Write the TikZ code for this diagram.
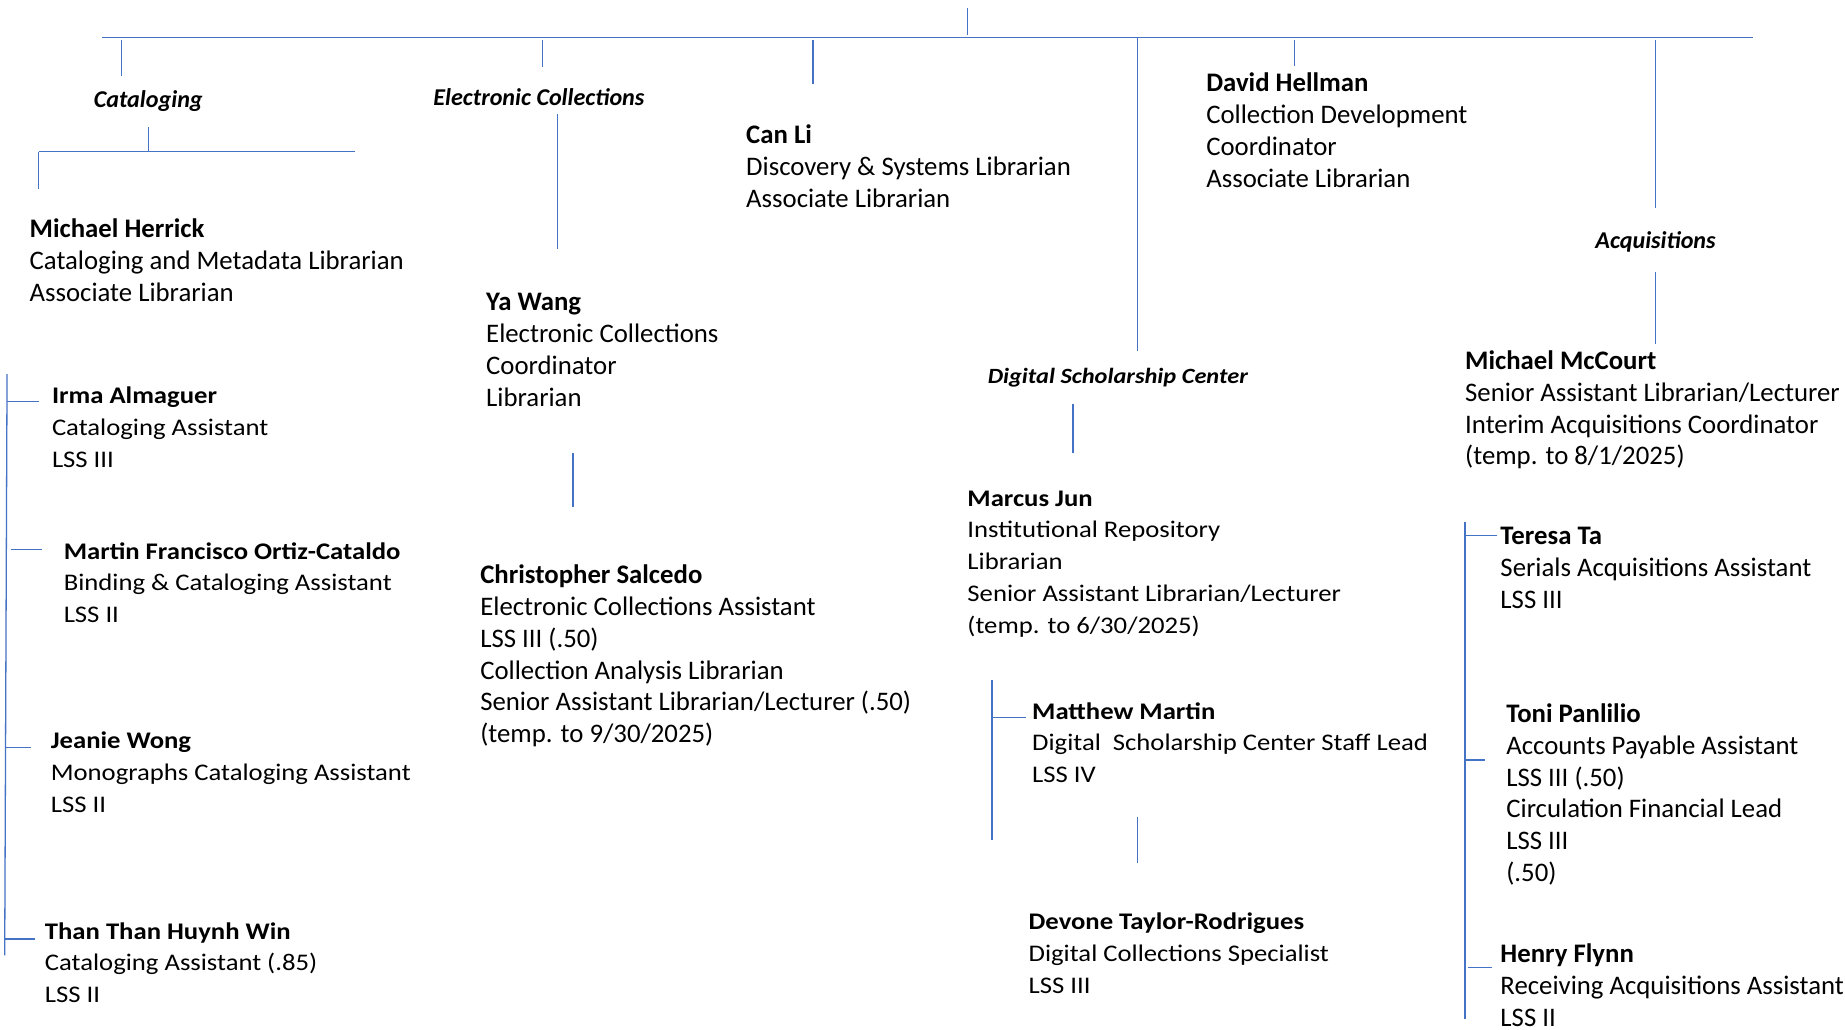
\documentclass[tikz,border=0pt]{standalone}
\usepackage{fontspec}
\setmainfont{Carlito}
\newfontfamily\widefont[FakeStretch=1.12]{Carlito}
\definecolor{linkblue}{HTML}{4472C4}
\begin{document}
\begin{tikzpicture}[x=1pt,y=-1pt,
  conn/.style={draw=linkblue, line width=1.1pt},
  person/.style={anchor=north west, inner sep=0pt, align=left, font=\fontsize{22.75}{27}\selectfont},
  wperson/.style={anchor=north west, inner sep=0pt, align=left, font=\widefont\fontsize{20.25}{27}\selectfont},
  unit/.style={anchor=base, inner sep=0pt, font=\fontsize{20.5}{24}\selectfont\bfseries\itshape},
  wunit/.style={anchor=base, inner sep=0pt, font=\widefont\fontsize{18.5}{24}\selectfont\bfseries\itshape},
]
\useasboundingbox[fill=white] (0,0) rectangle (1568,875);

% ---------- units ----------
\node[unit] (cat) at (126,91) {Cataloging};
\node[unit] (ec) at (458,90) {Electronic Collections};
\node[unit] (acq) at (1407,211) {Acquisitions};
\node[wunit] (dsc) at (950,326) {Digital Scholarship Center};

% ---------- people ----------
\node[person] (herrick) at (25,183) {\strut\textbf{Michael Herrick}\\Cataloging and Metadata Librarian\\Associate Librarian};
\node[person] (wang) at (413,245) {\strut\textbf{Ya Wang}\\Electronic Collections\\Coordinator\\Librarian};
\node[person] (canli) at (634,103) {\strut\textbf{Can Li}\\Discovery \& Systems Librarian\\Associate Librarian};
\node[person] (hellman) at (1025,59) {\strut\textbf{David Hellman}\\Collection Development\\Coordinator\\Associate Librarian};
\node[person] (mccourt) at (1245,295) {\strut\textbf{Michael McCourt}\\Senior Assistant Librarian/Lecturer\\Interim Acquisitions Coordinator\\(temp. to 8/1/2025)};
\node[person] (salcedo) at (408,477) {\strut\textbf{Christopher Salcedo}\\Electronic Collections Assistant\\LSS III (.50)\\Collection Analysis Librarian\\Senior Assistant Librarian/Lecturer (.50)\\(temp. to 9/30/2025)};
\node[person] (ta) at (1275,444) {\strut\textbf{Teresa Ta}\\Serials Acquisitions Assistant\\LSS III};
\node[person] (panlilio) at (1280,595) {\strut\textbf{Toni Panlilio}\\Accounts Payable Assistant\\LSS III (.50)\\Circulation Financial Lead\\LSS III\\(.50)};
\node[person] (flynn) at (1275,799) {\strut\textbf{Henry Flynn}\\Receiving Acquisitions Assistant\\LSS II};

\node[wperson] (almaguer) at (44,324) {\strut\textbf{Irma Almaguer}\\Cataloging Assistant\\LSS III};
\node[wperson] (ortiz) at (54,456) {\strut\textbf{Martin Francisco Ortiz-Cataldo}\\Binding \& Cataloging Assistant\\LSS II};
\node[wperson] (wong) at (43,617) {\strut\textbf{Jeanie Wong}\\Monographs Cataloging Assistant\\LSS II};
\node[wperson] (win) at (38,779) {\strut\textbf{Than Than Huynh Win}\\Cataloging Assistant (.85)\\LSS II};
\node[wperson] (jun) at (822,411) {\strut\textbf{Marcus Jun}\\Institutional Repository\\Librarian\\Senior Assistant Librarian/Lecturer\\(temp. to 6/30/2025)};
\node[wperson] (martin) at (877,592) {\strut\textbf{Matthew Martin}\\Digital~ Scholarship Center Staff Lead\\LSS IV};
\node[wperson] (taylor) at (874,771) {\strut\textbf{Devone Taylor-Rodrigues}\\Digital Collections Specialist\\LSS III};

% ---------- connector points ----------
\coordinate (barL) at (87,32);   \coordinate (barR) at (1490,32);
\coordinate (topA) at (822,7);   \coordinate (topB) at (822,30);
\coordinate (catA) at (103,34);  \coordinate (catB) at (103,65);
\coordinate (ecA) at (461,34);   \coordinate (ecB) at (461,57);
\coordinate (liA) at (691,34);   \coordinate (liB) at (691,71);
\coordinate (dsA) at (967,32);   \coordinate (dsB) at (967,298);
\coordinate (dhA) at (1100,34);  \coordinate (dhB) at (1100,56);
\coordinate (aqA) at (1407,34);  \coordinate (aqB) at (1407,177);
\coordinate (aqC) at (1407,231); \coordinate (aqD) at (1407,292);
\coordinate (csA) at (126,108);  \coordinate (csB) at (126,129);
\coordinate (csL) at (33,129);   \coordinate (csR) at (302,129);
\coordinate (csD) at (33,161);
\coordinate (ywA) at (474,97);   \coordinate (ywB) at (474,212);
\coordinate (chA) at (487,385);  \coordinate (chB) at (487,431);
\coordinate (mjA) at (912,343);  \coordinate (mjB) at (912,385);
\coordinate (mmT) at (843,578);  \coordinate (mmB) at (843,714);
\coordinate (mmJ) at (843,610);  \coordinate (mmE) at (872,610);
\coordinate (dtA) at (967,694);  \coordinate (dtB) at (967,733);
\coordinate (ksT) at (6,318);    \coordinate (ksB) at (4,812);
\coordinate (k1a) at (6,341);    \coordinate (k1b) at (33,341);
\coordinate (k2a) at (9,467);    \coordinate (k2b) at (36,467);
\coordinate (k3a) at (5,635);    \coordinate (k3b) at (26,635);
\coordinate (k4a) at (4,798);    \coordinate (k4b) at (30,798);
\coordinate (asT) at (1245,444); \coordinate (asB) at (1245,866);
\coordinate (a1a) at (1245,455); \coordinate (a1b) at (1272,455);
\coordinate (a2a) at (1245,646); \coordinate (a2b) at (1262,646);
\coordinate (a3a) at (1248,822); \coordinate (a3b) at (1268,822);

% ---------- connectors ----------
\draw[conn] (barL) -- (barR);
\draw[conn] (topA) -- (topB);
\draw[conn] (catA) -- (catB);
\draw[conn] (ecA) -- (ecB);
\draw[conn] (liA) -- (liB);
\draw[conn] (dsA) -- (dsB);
\draw[conn] (dhA) -- (dhB);
\draw[conn] (aqA) -- (aqB);
\draw[conn] (aqC) -- (aqD);
\draw[conn] (csA) -- (csB);
\draw[conn] (csL) -- (csR);
\draw[conn] (csL) -- (csD);
\draw[conn] (ywA) -- (ywB);
\draw[conn] (chA) -- (chB);
\draw[conn] (mjA) -- (mjB);
\draw[conn] (mmT) -- (mmB);
\draw[conn] (mmJ) -- (mmE);
\draw[conn] (dtA) -- (dtB);
\draw[conn] (ksT) -- (ksB);
\draw[conn] (k1a) -- (k1b);
\draw[conn] (k2a) -- (k2b);
\draw[conn] (k3a) -- (k3b);
\draw[conn] (k4a) -- (k4b);
\draw[conn] (asT) -- (asB);
\draw[conn] (a1a) -- (a1b);
\draw[conn] (a2a) -- (a2b);
\draw[conn] (a3a) -- (a3b);
\end{tikzpicture}
\end{document}
